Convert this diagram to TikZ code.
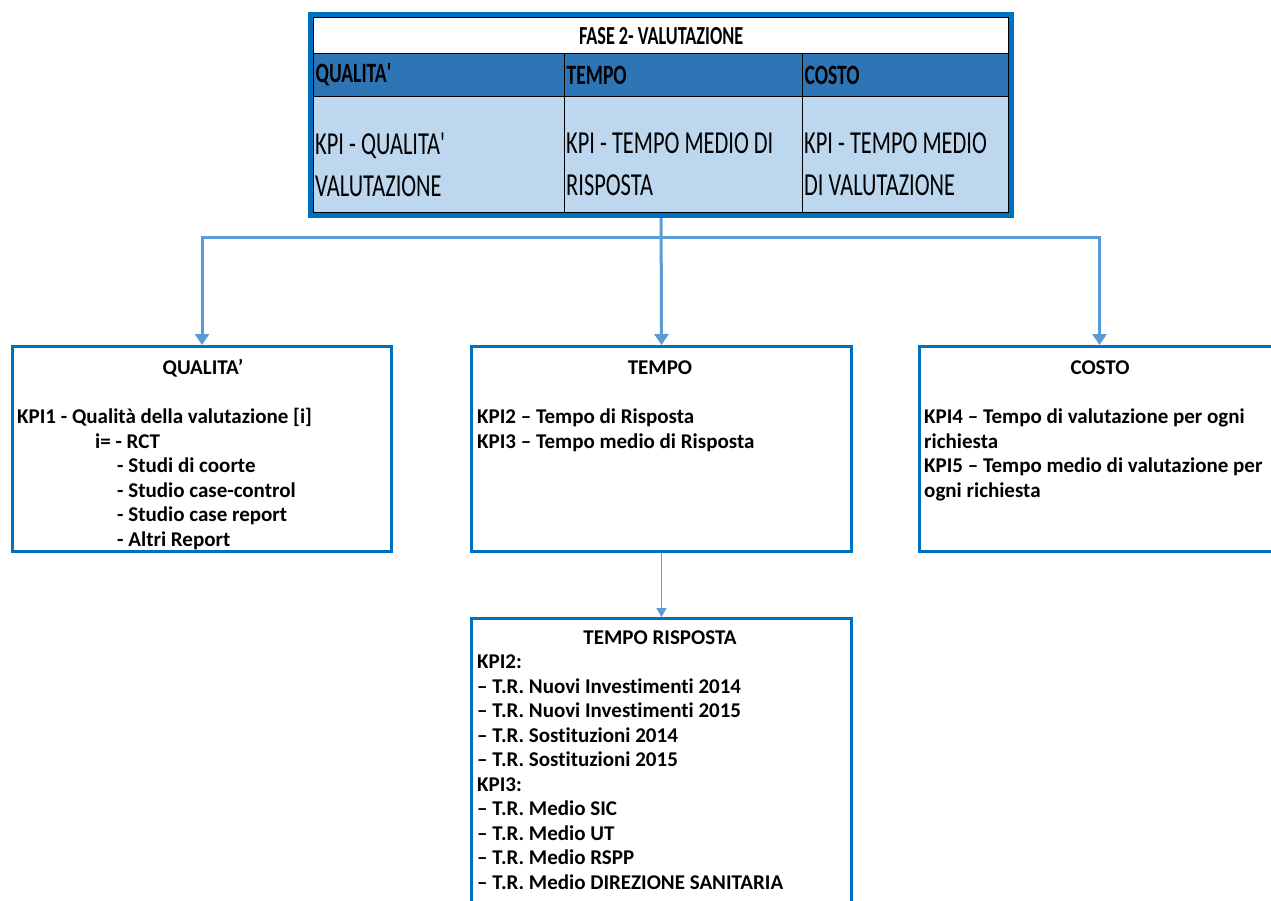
\documentclass[tikz,border=0pt]{standalone}
\usepackage{fontspec}
\setmainfont{Carlito}[Ligatures={TeX,NoCommon}]
\newfontfamily\tabfont[FakeStretch=0.7,Ligatures={TeX,NoCommon}]{Carlito}
\usetikzlibrary{positioning,arrows.meta,fit,calc}
\definecolor{frameblue}{HTML}{0070C0}
\definecolor{linkblue}{HTML}{5B9BD5}
\definecolor{headblue}{HTML}{2E75B6}
\definecolor{cellblue}{HTML}{BDD7EE}
\newcommand{\sq}{\textquotesingle}

\begin{document}
\begin{tikzpicture}[x=1pt, y=-1pt,
  font=\bfseries\fontsize{21}{24.5}\selectfont,
  link/.style={draw=linkblue, line width=3pt, -{Triangle[length=11pt,width=14pt]}},
  thinlink/.style={draw=linkblue, line width=1.5pt, -{Triangle[length=9pt,width=10pt]}},
  cell/.style={draw=black, line width=1.2pt, inner sep=0pt, anchor=north west},
  hcell/.style={cell, fill=headblue, minimum height=43pt, align=left, inner xsep=2pt,
    font=\tabfont\bfseries\fontsize{28}{30}\selectfont},
  bcell/.style={cell, fill=cellblue, minimum height=116pt},
  btxt/.style={anchor=west, align=left, inner sep=0pt, font=\tabfont\mdseries\fontsize{32}{42}\selectfont},
  kbox/.style={draw=frameblue, line width=3pt, anchor=north west, inner sep=0pt},
  ktitle/.style={anchor=base, inner sep=0pt},
  ktxt/.style={anchor=north west, align=left, inner sep=0pt}]
  \clip (0,0) rectangle (1271,900);
  % table on top
  \node[cell, fill=white, minimum width=695pt, minimum height=36pt, font=\tabfont\bfseries\fontsize{26}{28}\selectfont] (title) at (313,17) {FASE 2- VALUTAZIONE};
  \node[hcell, text width=247pt] (h1) at (313,53) {QUALITA\sq};
  \node[hcell, text width=234pt] (h2) at (564,53) {TEMPO};
  \node[hcell, text width=202pt] (h3) at (802,53) {COSTO};
  \node[bcell, minimum width=251pt] (b1) at (313,96) {};
  \node[bcell, minimum width=238pt] (b2) at (564,96) {};
  \node[bcell, minimum width=206pt] (b3) at (802,96) {};
  \node[btxt] (t1) at ($(b1.west)+(2,10)$) {KPI - QUALITA\sq\\VALUTAZIONE};
  \node[btxt] (t2) at ($(b2.west)+(2,10)$) {KPI - TEMPO MEDIO DI\\RISPOSTA};
  \node[btxt] (t3) at ($(b3.west)+(2,10)$) {KPI - TEMPO MEDIO\\DI VALUTAZIONE};
  \node[draw=frameblue, line width=5pt, inner sep=2.5pt, fit=(title)(h1)(b3)] (tbl) {};
  % three areas
  \node[kbox, minimum width=379pt, minimum height=205pt] (qual) at (11,345) {};
  \node[kbox, minimum width=380pt, minimum height=205pt] (tempo) at (470,345) {};
  \node[kbox, minimum width=360pt, minimum height=205pt] (costo) at (918,345) {};
  \node[kbox, minimum width=380pt, minimum height=300pt] (risp) at (470,617) {};
  \node[ktitle] (qualt) at (203,374) {QUALITA’};
  \node[ktitle] (tempot) at (660,374) {TEMPO};
  \node[ktitle] (costot) at (1100,374) {COSTO};
  \node[ktitle] (rispt) at (660,644) {TEMPO RISPOSTA};
  \node[ktxt] (qualx) at (17,408) {KPI1 - Qualità della valutazione [i]\\
    \hspace*{78pt}i= - RCT\\
    \hspace*{100pt}- Studi di coorte\\
    \hspace*{100pt}- Studio case-control\\
    \hspace*{100pt}- Studio case report\\
    \hspace*{100pt}- Altri Report};
  \node[ktxt] (tempox) at (477,409) {KPI2 – Tempo di Risposta\\KPI3 – Tempo medio di Risposta};
  \node[ktxt] (costox) at (924,409) {KPI4 – Tempo di valutazione per ogni\\richiesta\\KPI5 – Tempo medio di valutazione per\\ogni richiesta};
  \node[ktxt] (rispx) at (477,655) {KPI2:\\– T.R. Nuovi Investimenti 2014\\– T.R. Nuovi Investimenti 2015\\– T.R. Sostituzioni 2014\\– T.R. Sostituzioni 2015\\KPI3:\\– T.R. Medio SIC\\– T.R. Medio UT\\– T.R. Medio RSPP\\– T.R. Medio DIREZIONE SANITARIA};
  % connectors
  \coordinate (split) at (660,237);
  \draw[link] (tbl.south) -- (tempo.north);
  \draw[link] (split) -| (qual.north);
  \draw[link] (split) -| (costo.north);
  \draw[thinlink] (tempo.south) -- (risp.north);
\end{tikzpicture}
\end{document}
